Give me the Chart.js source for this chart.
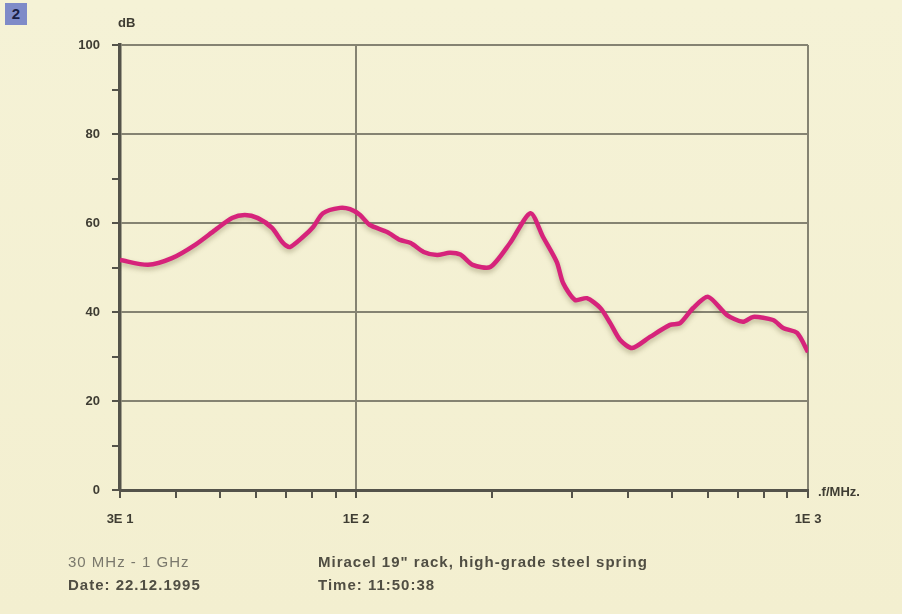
<!DOCTYPE html>
<html>
<head>
<meta charset="utf-8">
<script src="https://cdn.jsdelivr.net/npm/chart.js@4.4.1/dist/chart.umd.min.js"></script>
<style>
  html, body { margin: 0; padding: 0; background: #f4f1d4; }
  #wrap { position: relative; width: 902px; height: 614px; overflow: hidden;
          background: linear-gradient(180deg, #f5f2d6 0%, #f3efd0 100%); }
  #chart { position: absolute; left: 0; top: 0; }
  .badge { position: absolute; left: 5px; top: 3px; width: 22px; height: 22px;
           background: #7f8bc8; color: #1b1f44; font: bold 15px "Liberation Sans", Arial, sans-serif;
           text-align: center; line-height: 22px; }
  .foot { position: absolute; font: bold 15px "Liberation Sans", sans-serif;
          color: #504e43; white-space: nowrap; letter-spacing: 1px; }
</style>
</head>
<body>
<div id="wrap">
  <canvas id="chart" width="902" height="614"></canvas>
  <div class="badge">2</div>
  <div class="foot" style="left:68px;top:553px;color:#7a786c;font-weight:normal">30 MHz - 1 GHz</div>
  <div class="foot" style="left:68px;top:576px">Date: 22.12.1995</div>
  <div class="foot" style="left:318px;top:553px">Miracel 19" rack, high-grade steel spring</div>
  <div class="foot" style="left:318px;top:576px">Time: 11:50:38</div>
</div>
<script>
const freqMHz = [30, 34.6, 39.1, 44.0, 48.7, 53.1, 56.7, 60.6, 65.1, 68.9, 71.3, 76.3, 80.3, 84.4,
                 92.1, 96.9, 102, 107, 117, 125, 132, 141, 151, 161, 170, 181, 198, 219, 243,
                 259, 278, 287, 305, 324, 347, 365, 384, 408, 447, 495, 521, 557, 601, 662,
                 718, 756, 837, 881, 946, 1000];
const levelDB = [51.7, 50.6, 52.1, 55.1, 58.4, 61.1, 61.8, 61.1, 58.9, 55.5, 54.6, 56.9, 59.1, 62.2,
                 63.4, 63.1, 61.8, 59.6, 58.0, 56.2, 55.5, 53.5, 52.8, 53.3, 52.9, 50.6, 50.1, 55.5, 62.2,
                 56.9, 51.2, 46.5, 42.7, 43.1, 40.9, 37.5, 33.7, 31.9, 34.4, 37.1, 37.5, 40.9, 43.4, 39.3,
                 37.8, 38.9, 38.2, 36.4, 35.3, 31.0];

const xLabels = {30: '3E 1', 100: '1E 2', 1000: '1E 3'};
const yMajor = [0, 20, 40, 60, 80, 100];

const axisColor = '#54534a';
const gridColor = '#858372';
const labelFont = { family: 'Liberation Sans', size: 13, weight: 'bold' };

let points = [];
for (let i = 0; i < freqMHz.length; i++) {
    points.push({ x: freqMHz[i], y: levelDB[i] });
}

// soft shadow under the curve, plus the unit labels
const extras = {
    id: 'extras',
    beforeDatasetDraw(chart) {
        const c = chart.ctx;
        c.save();
        c.shadowColor = 'rgba(90, 80, 40, 0.35)';
        c.shadowBlur = 5;
        c.shadowOffsetY = 3;
    },
    afterDatasetDraw(chart) {
        chart.ctx.restore();
    },
    afterDraw(chart) {
        const c = chart.ctx;
        const a = chart.chartArea;
        c.save();
        c.fillStyle = '#3f3d33';
        c.font = 'bold 13px "Liberation Sans"';
        c.textBaseline = 'middle';
        c.textAlign = 'left';
        c.fillText('dB', a.left - 2, a.top - 22);
        c.fillText('.f/MHz.', a.right + 10, a.bottom + 2);
        c.restore();
    }
};

const ctx = document.getElementById('chart');
const chart = new Chart(ctx, {
    type: 'line',
    data: {
        datasets: [{
            data: points,
            borderColor: '#d6237b',
            borderWidth: 4.5,
            pointRadius: 0,
            tension: 0.25,
            fill: false
        }]
    },
    options: {
        responsive: false,
        animation: false,
        layout: { padding: { left: 0, right: 94, top: 45, bottom: 84 } },
        plugins: { legend: { display: false }, tooltip: { enabled: false } },
        scales: {
            x: {
                type: 'logarithmic',
                min: 30,
                max: 1000,
                afterFit: s => { s.height = 40; },
                afterBuildTicks: s => {
                    const t = [];
                    for (let v = 30; v <= 90; v += 10) t.push({ value: v });
                    for (let v = 100; v <= 1000; v += 100) t.push({ value: v });
                    s.ticks = t;
                },
                border: { color: axisColor, width: 3 },
                grid: {
                    color: c => (c.tick && (c.tick.value === 100 || c.tick.value === 1000)) ? gridColor : 'rgba(0,0,0,0)',
                    lineWidth: 2,
                    tickColor: axisColor,
                    tickLength: 8,
                    tickWidth: 2
                },
                ticks: {
                    autoSkip: false,
                    maxRotation: 0,
                    padding: 14,
                    color: '#3f3d33',
                    font: labelFont,
                    callback: v => xLabels[v] || ''
                }
            },
            y: {
                min: 0,
                max: 100,
                afterFit: s => { s.width = 120; },
                border: { color: axisColor, width: 3.5 },
                grid: {
                    color: c => (c.tick && yMajor.includes(c.tick.value)) ? gridColor : 'rgba(0,0,0,0)',
                    lineWidth: 2,
                    tickColor: axisColor,
                    tickLength: 8,
                    tickWidth: 2
                },
                ticks: {
                    stepSize: 10,
                    padding: 12,
                    color: '#3f3d33',
                    font: labelFont,
                    callback: v => yMajor.includes(v) ? String(v) : ''
                }
            }
        }
    },
    plugins: [extras]
});
</script>
</body>
</html>
